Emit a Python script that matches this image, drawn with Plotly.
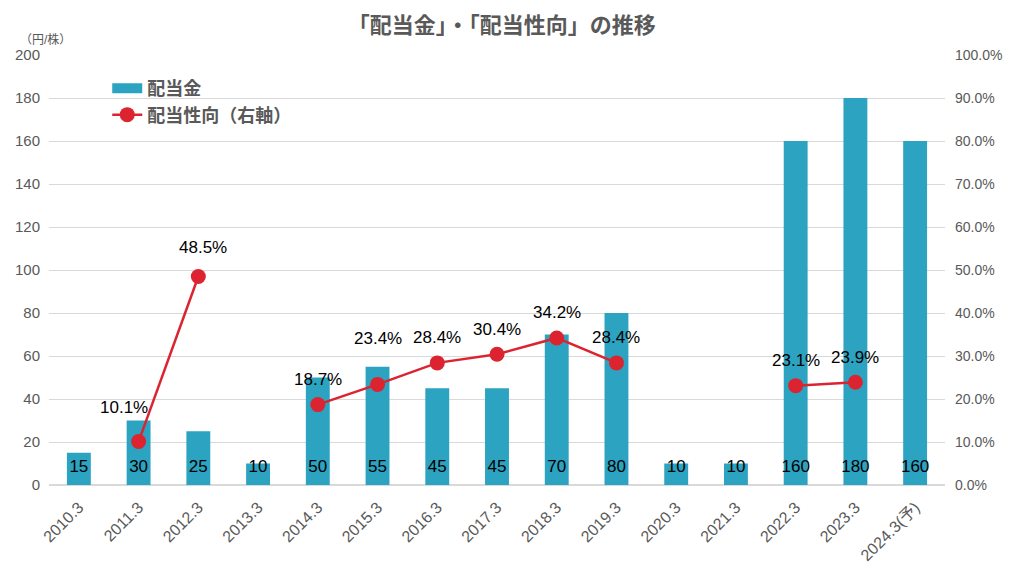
import plotly.graph_objects as go

YEARS = ["2010.3", "2011.3", "2012.3", "2013.3", "2014.3", "2015.3", "2016.3", "2017.3",
         "2018.3", "2019.3", "2020.3", "2021.3", "2022.3", "2023.3", "2024.3(予)"]
DIVIDEND = [15, 30, 25, 10, 50, 55, 45, 45, 70, 80, 10, 10, 160, 180, 160]
PAYOUT = [None, 10.1, 48.5, None, 18.7, 23.4, 28.4, 30.4, 34.2, 28.4, None, None, 23.1, 23.9, None]

BAR_COLOR = "#2ca3c0"
LINE_COLOR = "#dc2430"
GRAY = "#595959"
FONT = "Liberation Sans, Arial, Noto Sans CJK JP"

# label offsets for payout labels (px), default is straight above the point
LABEL_SHIFT = {"2011.3": (-15, 34), "2012.3": (5, 29), "2015.3": (0, 46)}

fig = go.Figure()

fig.add_trace(go.Bar(
    x=YEARS, y=DIVIDEND, name="配当金",
    marker_color=BAR_COLOR, marker_line_width=0,
    yaxis="y", hoverinfo="x+y", showlegend=False,
))

# legend proxy so the bar key is a wide block like the original
fig.add_trace(go.Scatter(
    x=[None], y=[None], mode="lines", name="配当金",
    line=dict(color=BAR_COLOR, width=13), hoverinfo="skip",
))

# value labels sit near the bottom of every bar
fig.add_trace(go.Scatter(
    x=YEARS, y=[8] * len(YEARS), mode="text",
    text=[str(v) for v in DIVIDEND],
    textfont=dict(size=17, color="black", family=FONT),
    showlegend=False, hoverinfo="skip", yaxis="y",
))

fig.add_trace(go.Scatter(
    x=YEARS, y=PAYOUT, name="配当性向（右軸）",
    mode="lines+markers", yaxis="y2",
    line=dict(color=LINE_COLOR, width=2.5),
    marker=dict(color=LINE_COLOR, size=15),
    connectgaps=False,
))

# category axis: annotations are placed by category index
for i, (year, val) in enumerate(zip(YEARS, PAYOUT)):
    if val is None:
        continue
    dx, dy = LABEL_SHIFT.get(year, (0, 25))
    fig.add_annotation(
        x=i, y=val, yref="y2", text=f"{val:.1f}%",
        showarrow=False, xshift=dx, yshift=dy,
        font=dict(size=17, color="black", family=FONT),
    )

fig.add_annotation(
    text="（円/株）", xref="paper", yref="paper", x=-0.004, y=1.037,
    xanchor="center", yanchor="middle", showarrow=False,
    font=dict(size=12, color=GRAY, family=FONT),
)

# page body adds an 8px margin, so the figure is sized 8px smaller each way
fig.update_layout(
    width=1016, height=573,
    paper_bgcolor="white", plot_bgcolor="white",
    margin=dict(l=41, r=79, t=47, b=96),
    font=dict(family=FONT, color=GRAY, size=14),
    title=dict(text="<b>「配当金」・「配当性向」の推移</b>", x=0.486, xanchor="center",
               y=0.969, yanchor="middle", font=dict(size=22, color=GRAY)),
    bargap=0.6,
    showlegend=True,
    legend=dict(x=0.065, y=0.965, xanchor="left", yanchor="top",
                font=dict(size=18, color=GRAY, weight="bold"), bgcolor="rgba(0,0,0,0)",
                tracegroupgap=2, itemwidth=30),
    xaxis=dict(type="category", range=[-0.5, len(YEARS) - 0.5], tickangle=-45,
               tickfont=dict(size=16, color=GRAY),
               showline=False, ticks="", automargin=False, ticklabelstandoff=9),
    yaxis=dict(range=[0, 200], dtick=20, showgrid=True, gridcolor="#d9d9d9",
               zeroline=True, zerolinecolor="#d9d9d9", tickfont=dict(size=15, color=GRAY),
               ticks="", showline=False, automargin=False, ticklabelstandoff=8),
    yaxis2=dict(range=[0, 100], dtick=10, overlaying="y", side="right",
                showgrid=False, zeroline=False, ticksuffix="%", tickformat=".1f",
                tickfont=dict(size=14, color=GRAY), ticks="", automargin=False,
                ticklabelstandoff=9),
)

fig.write_html("out.html")
